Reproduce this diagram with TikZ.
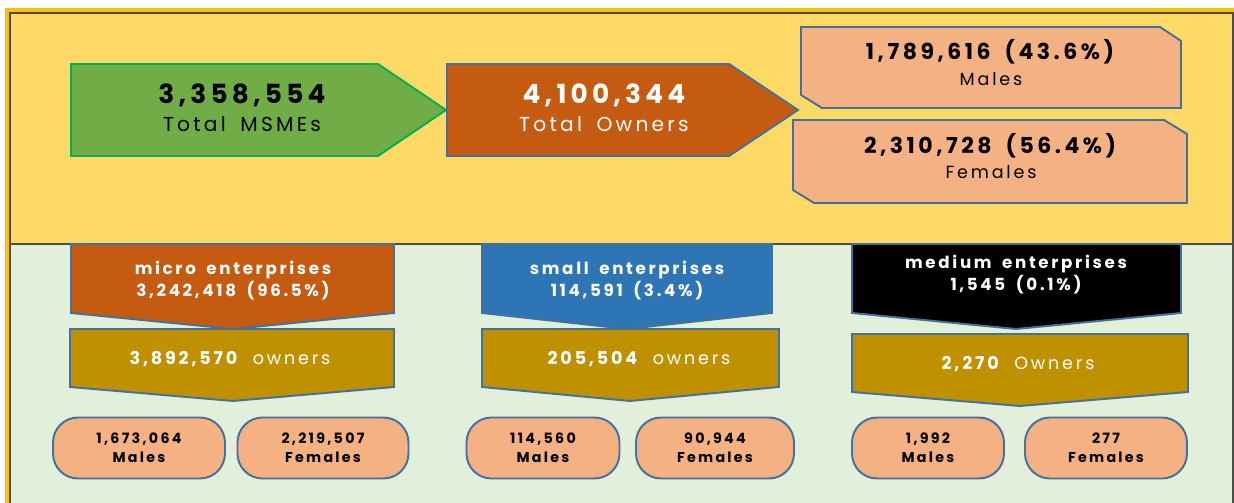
\documentclass[tikz,border=0pt]{standalone}
\usepackage{fontspec}
\setmainfont{Poppins}[LetterSpace=16, WordSpace=1.7]
\usepackage{xcolor}
\usetikzlibrary{positioning}
\definecolor{frameorange}{HTML}{FFC000}
\definecolor{topyellow}{HTML}{FFD966}
\definecolor{lowgreen}{HTML}{E2EFDA}
\definecolor{msmegreen}{HTML}{70AD47}
\definecolor{msmeline}{HTML}{00B050}
\definecolor{rust}{HTML}{C55A11}
\definecolor{salmon}{HTML}{F4B183}
\definecolor{steel}{HTML}{41719C}
\definecolor{smallblue}{HTML}{2E75B6}
\definecolor{ownergold}{HTML}{BF9000}
\tikzstyle{panel} = [line width=0.8pt, draw=black!70]
\tikzstyle{shapebox} = [line width=1.1pt, draw=steel]
\tikzstyle{bignum} = [font=\fontsize{15}{17}\selectfont\bfseries, inner sep=0pt, anchor=base]
\tikzstyle{biglbl} = [font=\fontsize{11.5}{13}\selectfont, inner sep=0pt, anchor=base]
\tikzstyle{sexnum} = [font=\fontsize{12.5}{15}\selectfont\bfseries, inner sep=0pt, anchor=base]
\tikzstyle{sexlbl} = [font=\fontsize{10}{12}\selectfont, inner sep=0pt, anchor=base]
\tikzstyle{sizetxt} = [font=\fontsize{9.5}{12.5}\selectfont\bfseries, text=white, align=center, inner sep=0pt]
\tikzstyle{owntxt} = [font=\fontsize{10}{12}\selectfont, text=white, inner sep=0pt, anchor=base]
\tikzstyle{pill} = [rectangle, rounded corners=0.5cm, line width=1.1pt, draw=steel, fill=salmon,
    minimum height=1.22cm, align=center, inner sep=0pt,
    font=\fontsize{8.1}{10.8}\selectfont\bfseries]

\begin{document}
\begin{tikzpicture}[x=0.02cm, y=-0.02cm]
\useasboundingbox (0,0) rectangle (1234,503);
% frame and the two panels
\fill[white] (0,0) rectangle (1234,503);
\fill[frameorange] (5,8) rectangle (1234,503);
\filldraw[panel, fill=topyellow] (10,13) rectangle (1233,244);
\fill[lowgreen] (10,244) rectangle (1233,503);
\draw[panel] (10,503) -- (10,244) -- (1233,244) -- (1233,503);

% totals
\filldraw[line width=1.1pt, draw=msmeline, fill=msmegreen]
    (71,64) -- (378,64) -- (446,110) -- (378,156) -- (71,156) -- cycle;
\filldraw[shapebox, fill=rust]
    (447,64) -- (729,64) -- (798,110) -- (729,156) -- (447,156) -- cycle;
\node (msme) [bignum] at (242,104) {3,358,554};
\node (msmelbl) [biglbl] at (242,132) {Total MSMEs};
\node (owners) [bignum, text=white] at (604,104) {4,100,344};
\node (ownerslbl) [biglbl, text=white] at (604,132) {Total Owners};

% males / females of all owners
\filldraw[shapebox, fill=salmon]
    (801,27) -- (1160,27) -- (1181,41) -- (1181,108) -- (822,108) -- (801,95) -- cycle;
\filldraw[shapebox, fill=salmon]
    (793,120) -- (1164,120) -- (1187,134) -- (1187,203) -- (814,203) -- (793,190) -- cycle;
\node (male) [sexnum] at (990,60) {1,789,616 (43.6\%)};
\node (malelbl) [sexlbl] at (991,86) {Males};
\node (female) [sexnum] at (990,154) {2,310,728 (56.4\%)};
\node (femalelbl) [sexlbl] at (991,179) {Females};

% micro
\filldraw[shapebox, fill=rust]
    (71,244) -- (394,244) -- (394,313) -- (233,329) -- (71,313) -- cycle;
\filldraw[shapebox, fill=ownergold]
    (70,329) -- (394,329) -- (394,387) -- (233,401) -- (70,387) -- cycle;
\node (micro) [sizetxt] at (233,281) {micro enterprises\\3,242,418 (96.5\%)};
\node (microown) [owntxt] at (230,364) {\textbf{3,892,570} owners};
\node (microM) [pill, minimum width=3.44cm] at (139,448) {1,673,064\\Males};
\node (microF) [pill, minimum width=3.42cm] at (323,448) {2,219,507\\Females};

% small
\filldraw[shapebox, fill=smallblue]
    (482,244) -- (772,244) -- (772,313) -- (627,329) -- (482,313) -- cycle;
\filldraw[shapebox, fill=ownergold]
    (482,329) -- (779,329) -- (779,387) -- (630,401) -- (482,387) -- cycle;
\node (small) [sizetxt] at (627,281) {small enterprises\\114,591 (3.4\%)};
\node (smallown) [owntxt] at (639,364) {\textbf{205,504} owners};
\node (smallM) [pill, minimum width=3.06cm] at (543,448) {114,560\\Males};
\node (smallF) [pill, minimum width=3.16cm] at (715,448) {90,944\\Females};

% medium
\filldraw[shapebox, fill=black]
    (852,244) -- (1181,244) -- (1181,313) -- (1016,329) -- (852,313) -- cycle;
\filldraw[shapebox, fill=ownergold]
    (852,334) -- (1188,334) -- (1188,392) -- (1020,406) -- (852,392) -- cycle;
\node (medium) [sizetxt] at (1016,275) {medium enterprises\\1,545 (0.1\%)};
\node (mediumown) [owntxt] at (1018,369) {\textbf{2,270} Owners};
\node (mediumM) [pill, minimum width=3.04cm] at (928,448) {1,992\\Males};
\node (mediumF) [pill, minimum width=3.24cm] at (1106,448) {277\\Females};
\end{tikzpicture}
\end{document}
